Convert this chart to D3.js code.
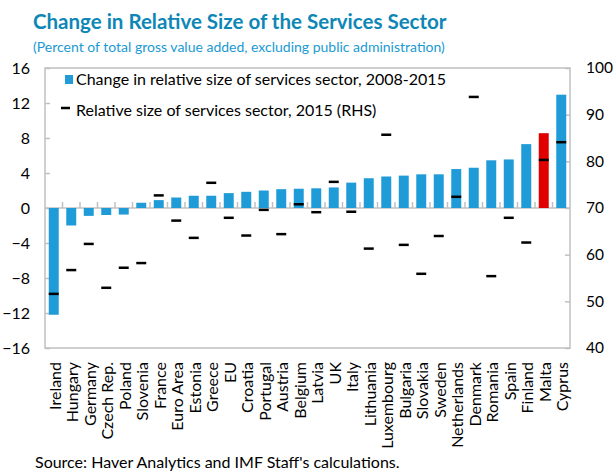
<!DOCTYPE html>
<html>
<head>
<meta charset="utf-8">
<script src="https://cdn.jsdelivr.net/npm/d3@7"></script>
<style>
  body { margin: 0; background: #fff; }
  text { font-family: Lato, "Open Sans", sans-serif; }
</style>
</head>
<body>
<div class="chart"></div>
<script>
// Data
var countries = ["Ireland", "Hungary", "Germany", "Czech Rep.", "Poland", "Slovenia", "France", "Euro Area",
  "Estonia", "Greece", "EU", "Croatia", "Portugal", "Austria", "Belgium", "Latvia", "UK", "Italy",
  "Lithuania", "Luxembourg", "Bulgaria", "Slovakia", "Sweden", "Netherlands", "Denmark", "Romania",
  "Spain", "Finland", "Malta", "Cyprus"];
var changeValues = [-12.2, -2.0, -0.9, -0.8, -0.75, 0.6, 0.9, 1.2, 1.4, 1.4, 1.7, 1.85, 2.0, 2.15, 2.2,
  2.25, 2.35, 2.9, 3.4, 3.6, 3.7, 3.85, 3.85, 4.45, 4.6, 5.45, 5.55, 7.3, 8.55, 12.95];
var sizeValues = [51.6, 56.7, 62.3, 52.9, 57.2, 58.2, 72.7, 67.3, 63.6, 75.4, 67.9, 64.1, 69.6, 64.4, 70.8,
  69.1, 75.6, 69.2, 61.3, 85.7, 62.1, 55.9, 64.0, 72.4, 93.8, 55.4, 67.9, 62.6, 80.3, 84.1];
var leftTicks = [-16, -12, -8, -4, 0, 4, 8, 12, 16];
var rightTicks = [40, 50, 60, 70, 80, 90, 100];
var highlight = "Malta";

var svgWidth = 613;
var svgHeight = 475;
var plot = {left: 45, right: 570, top: 68, bottom: 348};

var svg = d3.select(".chart")
    .append("svg")
    .attr("width", svgWidth)
    .attr("height", svgHeight);

var data = countries.map(function(c, i) {
    return {country: c, change: changeValues[i], size: sizeValues[i]};
});

// Scales
var x = d3.scaleBand()
    .domain(countries)
    .range([plot.left, plot.right])
    .paddingInner(0.43)
    .paddingOuter(0.215);

var yLeft = d3.scaleLinear()
    .domain([-16, 16])
    .range([plot.bottom, plot.top]);

var yRight = d3.scaleLinear()
    .domain([40, 100])
    .range([plot.bottom, plot.top]);

// Plot frame
svg.append("rect")
    .attr("x", plot.left)
    .attr("y", plot.top)
    .attr("width", plot.right - plot.left)
    .attr("height", plot.bottom - plot.top)
    .attr("fill", "none")
    .attr("stroke", "#c0c0c0")
    .attr("stroke-width", 1.5);

// Left axis, ticks pointing in
var leftAxis = svg.append("g")
    .attr("transform", "translate(" + plot.left + ",0)")
    .call(d3.axisLeft(yLeft).tickValues(leftTicks).tickSizeInner(-5).tickSizeOuter(0).tickPadding(15));
leftAxis.select(".domain").remove();
leftAxis.selectAll("line").attr("stroke", "#c0c0c0").attr("stroke-width", 1.5);
leftAxis.selectAll("text").attr("font-size", 16).attr("fill", "#000");

// Right axis
var rightAxis = svg.append("g")
    .attr("transform", "translate(" + plot.right + ",0)")
    .call(d3.axisRight(yRight).tickValues(rightTicks).tickSizeInner(-5).tickSizeOuter(0).tickPadding(16));
rightAxis.select(".domain").remove();
rightAxis.selectAll("line").attr("stroke", "#c0c0c0").attr("stroke-width", 1.5);
rightAxis.selectAll("text").attr("font-size", 15.5).attr("fill", "#000");

// Zero line and category ticks
svg.append("line")
    .attr("x1", plot.left).attr("x2", plot.right)
    .attr("y1", yLeft(0)).attr("y2", yLeft(0))
    .attr("stroke", "#c0c0c0")
    .attr("stroke-width", 1.5);

var gap = x.step() * x.paddingInner() / 2;
svg.append("g").selectAll("line")
    .data(countries.slice(1))
    .enter()
    .append("line")
    .attr("x1", d => x(d) - gap)
    .attr("x2", d => x(d) - gap)
    .attr("y1", yLeft(0))
    .attr("y2", yLeft(0) - 6)
    .attr("stroke", "#c0c0c0")
    .attr("stroke-width", 1.5);

// Bars
svg.append("g").selectAll("rect")
    .data(data)
    .enter()
    .append("rect")
    .attr("x", d => x(d.country))
    .attr("width", x.bandwidth())
    .attr("y", d => yLeft(Math.max(0, d.change)))
    .attr("height", d => Math.abs(yLeft(d.change) - yLeft(0)))
    .attr("fill", d => d.country === highlight ? "#e00000" : "#1f9bd7");

// RHS markers
svg.append("g").selectAll("line")
    .data(data)
    .enter()
    .append("line")
    .attr("x1", d => x(d.country))
    .attr("x2", d => x(d.country) + x.bandwidth())
    .attr("y1", d => yRight(d.size))
    .attr("y2", d => yRight(d.size))
    .attr("stroke", "#000")
    .attr("stroke-width", 2.5);

// Category labels
var xAxis = svg.append("g")
    .attr("transform", "translate(0," + plot.bottom + ")")
    .call(d3.axisBottom(x).tickSize(0));
xAxis.select(".domain").remove();
xAxis.selectAll("text")
    .attr("transform", "rotate(-90)")
    .attr("text-anchor", "end")
    .attr("x", -14)
    .attr("y", 0)
    .attr("dy", "0.45em")
    .attr("font-size", 16)
    .attr("fill", "#000");

// Legend
svg.append("rect")
    .attr("x", 65).attr("y", 75)
    .attr("width", 8).attr("height", 9)
    .attr("fill", "#1f9bd7");
svg.append("text")
    .attr("x", 76).attr("y", 85)
    .attr("font-size", 16)
    .text("Change in relative size of services sector, 2008-2015");
svg.append("line")
    .attr("x1", 61).attr("x2", 70)
    .attr("y1", 108).attr("y2", 108)
    .attr("stroke", "#000").attr("stroke-width", 2.5);
svg.append("text")
    .attr("x", 76).attr("y", 116)
    .attr("font-size", 16)
    .text("Relative size of services sector, 2015 (RHS)");

// Titles
svg.append("text")
    .attr("x", 33).attr("y", 29)
    .attr("font-size", 20.5)
    .attr("font-weight", "bold")
    .attr("fill", "#0d87b6")
    .text("Change in Relative Size of the Services Sector");
svg.append("text")
    .attr("x", 33).attr("y", 52)
    .attr("font-size", 14)
    .attr("fill", "#1a9ad3")
    .text("(Percent of total gross value added, excluding public administration)");

// Source
svg.append("text")
    .attr("x", 35).attr("y", 468)
    .attr("font-size", 16)
    .text("Source: Haver Analytics and IMF Staff's calculations.");
</script>
</body>
</html>
